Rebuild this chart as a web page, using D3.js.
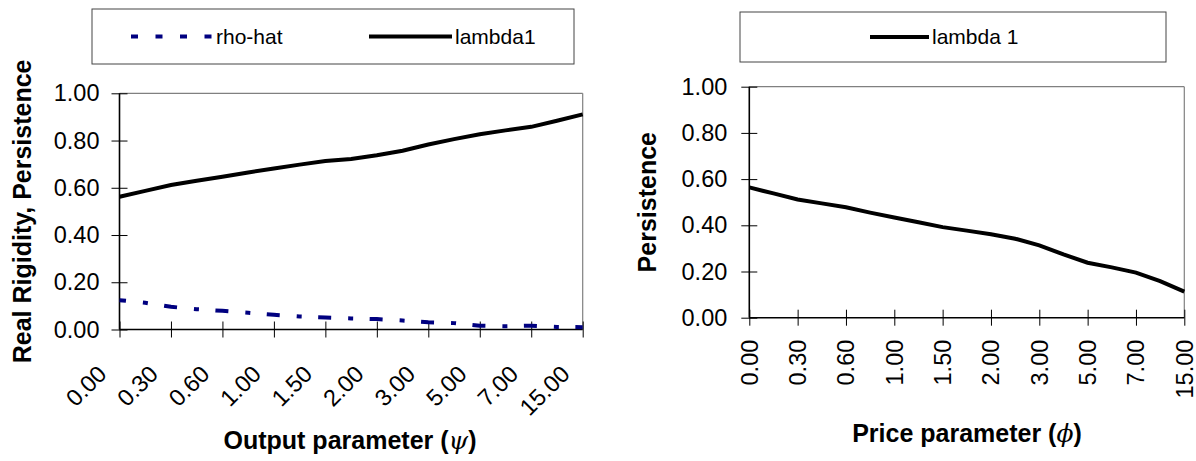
<html>
<head>
    <script src="https://d3js.org/d3.v7.min.js"></script>
    <style>
        body {
            margin: 0;
            background: #fff;
            font-family: "Liberation Sans", Arial, Helvetica, sans-serif;
        }
        .tick line {
            stroke: #000;
        }
        .axis-title {
            font-size: 25px;
            font-weight: bold;
        }
        .legend-text {
            font-size: 21px;
        }
    </style>
</head>

<body>
    <svg id="chart" width="1196" height="461"></svg>
    <script>
        // categories on the x axis (only every other one gets a label)
        const categories = ["0.00", "0.15", "0.30", "0.45", "0.60", "0.80", "1.00", "1.25", "1.50", "1.75",
            "2.00", "2.50", "3.00", "4.00", "5.00", "6.00", "7.00", "10.00", "15.00"];
        const tickLabels = ["0.00", "0.30", "0.60", "1.00", "1.50", "2.00", "3.00", "5.00", "7.00", "15.00"];
        const yTicks = [0, 0.2, 0.4, 0.6, 0.8, 1.0];

        // left panel: output parameter
        const rhoHat = [0.124, 0.113, 0.096, 0.086, 0.079, 0.071, 0.062, 0.055, 0.051, 0.047,
            0.044, 0.038, 0.031, 0.027, 0.016, 0.014, 0.016, 0.011, 0.010];
        const lambda1 = [0.562, 0.587, 0.612, 0.630, 0.647, 0.665, 0.682, 0.698, 0.713, 0.722,
            0.738, 0.757, 0.783, 0.806, 0.827, 0.843, 0.858, 0.884, 0.911];

        // right panel: price parameter
        const lambda1Price = [0.564, 0.538, 0.512, 0.495, 0.478, 0.455, 0.434, 0.413, 0.392, 0.377,
            0.361, 0.342, 0.313, 0.274, 0.238, 0.218, 0.195, 0.158, 0.113];

        const svg = d3.select("svg#chart");
        const fmt = d3.format(".2f");
        const FONT = "'Liberation Sans', Arial, Helvetica, sans-serif";

        function drawPanel(p) {
            const x = d3.scalePoint().domain(categories).range([p.left, p.right]);
            const y = d3.scaleLinear().domain([0, 1]).range([p.bottom, p.top]);
            const g = svg.append("g");

            // frame: gray top/right, black left/bottom
            g.append("line").attr("x1", p.left).attr("x2", p.right).attr("y1", p.top).attr("y2", p.top)
                .attr("stroke", "#808080").attr("stroke-width", 1.2);
            g.append("line").attr("x1", p.right).attr("x2", p.right).attr("y1", p.top).attr("y2", p.bottom)
                .attr("stroke", "#808080").attr("stroke-width", 1.2);

            let leftAxis = d3.axisLeft(y).tickValues(yTicks).tickFormat(fmt)
                .tickSize(8).tickPadding(p.yPad);
            let yAxis = g.append("g")
                .attr("transform", `translate(${p.left},0)`)
                .call(leftAxis)
                .attr("font-family", FONT)
                .attr("font-size", 23.5);
            yAxis.select(".domain").remove();
            yAxis.selectAll(".tick line").attr("x2", -8).attr("x1", 8);
            yAxis.selectAll(".tick text").attr("fill", "#000");

            let bottomAxis = d3.axisBottom(x).tickValues(tickLabels).tickSize(8);
            let xAxis = g.append("g")
                .attr("transform", `translate(0,${p.bottom})`)
                .call(bottomAxis)
                .attr("font-family", FONT)
                .attr("font-size", 23.5);
            xAxis.select(".domain").remove();
            xAxis.selectAll(".tick line").attr("y1", -8).attr("y2", 8);
            xAxis.selectAll(".tick text")
                .attr("x", 0).attr("y", 0).attr("dy", 0)
                .attr("fill", "#000")
                .attr("text-anchor", "end")
                .attr("transform", p.labelTransform);

            g.append("line").attr("x1", p.left).attr("x2", p.left).attr("y1", p.top).attr("y2", p.bottom)
                .attr("stroke", "#000").attr("stroke-width", 1.6);
            g.append("line").attr("x1", p.left).attr("x2", p.right).attr("y1", p.bottom).attr("y2", p.bottom)
                .attr("stroke", "#000").attr("stroke-width", 1.6);

            p.series.forEach(s => {
                g.append("path")
                    .datum(s.values)
                    .attr("fill", "none")
                    .attr("stroke", s.color)
                    .attr("stroke-width", 4)
                    .attr("stroke-dasharray", s.dash || null)
                    .attr("stroke-dashoffset", s.dashOffset || 0)
                    .attr("d", d3.line().x((d, i) => x(categories[i])).y(d => y(d)));
            });

            // axis titles
            const yMid = (p.top + p.bottom) / 2;
            g.append("text")
                .attr("class", "axis-title")
                .attr("font-family", FONT)
                .attr("text-anchor", "middle")
                .attr("transform", `translate(${p.yTitleX},${yMid}) rotate(-90)`)
                .text(p.yTitle);

            let xt = g.append("text")
                .attr("class", "axis-title")
                .attr("font-family", FONT)
                .attr("text-anchor", "middle")
                .attr("x", p.xTitleX)
                .attr("y", p.xTitleY);
            xt.append("tspan").text(p.xTitle + " (");
            xt.append("tspan").attr("font-style", "italic").attr("font-weight", "normal")
                .attr("font-family", "DejaVu Serif, serif").text(p.greek);
            xt.append("tspan").text(")");

            // legend
            const lg = g.append("g");
            lg.append("rect")
                .attr("x", p.legend.x).attr("y", p.legend.y)
                .attr("width", p.legend.w).attr("height", p.legend.h)
                .attr("fill", "#fff").attr("stroke", "#444").attr("stroke-width", 1);
            p.legend.items.forEach(it => {
                const cy = p.legend.y + p.legend.h / 2;
                lg.append("line")
                    .attr("x1", it.x1).attr("x2", it.x2).attr("y1", cy).attr("y2", cy)
                    .attr("stroke", it.color).attr("stroke-width", 4)
                    .attr("stroke-dasharray", it.dash || null);
                lg.append("text")
                    .attr("class", "legend-text")
                    .attr("font-family", FONT)
                    .attr("x", it.x2 + 3).attr("y", cy)
                    .attr("dy", "0.35em")
                    .text(it.label);
            });
        }

        drawPanel({
            left: 119.5, right: 582.7, top: 93.3, bottom: 329.5,
            yPad: 12,
            labelTransform: "translate(-12,46) rotate(-45)",
            series: [
                { values: lambda1, color: "#000" },
                { values: rhoHat, color: "#000080", dash: "13,17,5,16.5", dashOffset: 6.5 }
            ],
            yTitle: "Real Rigidity, Persistence", yTitleX: 31,
            xTitle: "Output parameter", greek: "ψ", xTitleX: 350, xTitleY: 449,
            legend: {
                x: 92, y: 9, w: 482, h: 55,
                items: [
                    { x1: 131, x2: 213, color: "#000080", dash: "7,17.5", label: "rho-hat" },
                    { x1: 369, x2: 452, color: "#000", label: "lambda1" }
                ]
            }
        });

        drawPanel({
            left: 749.3, right: 1184.3, top: 86.7, bottom: 317.7,
            yPad: 14,
            labelTransform: "translate(8,22) rotate(-90)",
            series: [
                { values: lambda1Price, color: "#000" }
            ],
            yTitle: "Persistence", yTitleX: 656,
            xTitle: "Price parameter", greek: "ϕ", xTitleX: 967, xTitleY: 442,
            legend: {
                x: 740, y: 12, w: 426, h: 50,
                items: [
                    { x1: 870, x2: 929, color: "#000", label: "lambda 1" }
                ]
            }
        });
    </script>
</body>

</html>
